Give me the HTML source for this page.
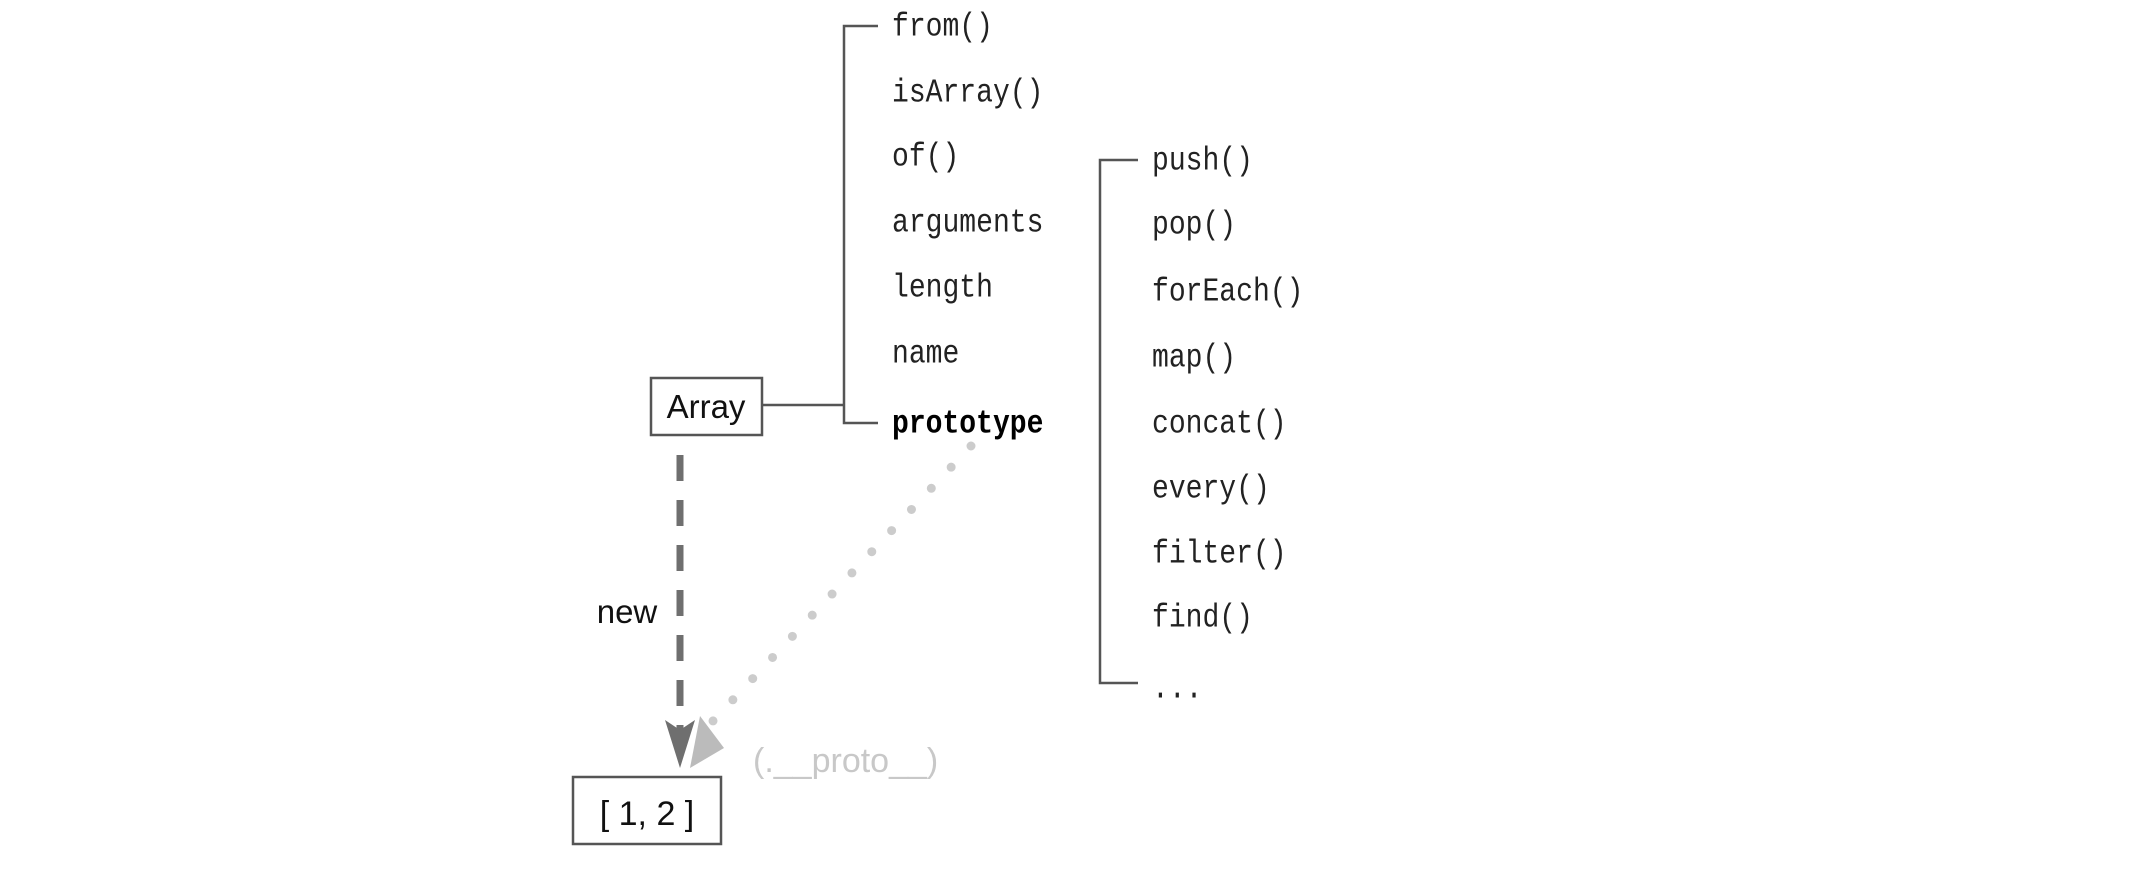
<!DOCTYPE html>
<html><head><meta charset="utf-8"><style>
html,body{margin:0;padding:0;background:#fff;}
svg{display:block}
.m{font-family:"Liberation Mono","DejaVu Sans Mono",monospace;font-size:33px;fill:#222;}
.s{font-family:"Liberation Sans",sans-serif;font-size:33px;fill:#111;}
</style></head><body>
<svg width="2145" height="880" viewBox="0 0 2145 880" xmlns="http://www.w3.org/2000/svg">
<g stroke="#555" stroke-width="2.5" fill="none">
<rect x="651" y="378" width="111" height="57"/>
<line x1="762" y1="405" x2="844" y2="405"/>
<polyline points="878,26 844,26 844,423 878,423"/>
<polyline points="1138,160 1100,160 1100,683 1138,683"/>
<rect x="573" y="777" width="148" height="67"/>
</g>
<g class="m" dominant-baseline="central" transform="translate(892,4) scale(0.85,1)">
<text x="0" y="24">from()</text>
<text x="0" y="90">isArray()</text>
<text x="0" y="154">of()</text>
<text x="0" y="220">arguments</text>
<text x="0" y="285">length</text>
<text x="0" y="351">name</text>
<text x="0" y="421" font-weight="bold" fill="#000">prototype</text>
</g>
<g class="m" dominant-baseline="central" transform="translate(1152,4) scale(0.85,1)">
<text x="0" y="158">push()</text>
<text x="0" y="222">pop()</text>
<text x="0" y="289">forEach()</text>
<text x="0" y="355">map()</text>
<text x="0" y="421">concat()</text>
<text x="0" y="486">every()</text>
<text x="0" y="551">filter()</text>
<text x="0" y="615">find()</text>
<text x="0" y="686">...</text>
</g>
<text class="s" x="706" y="418" text-anchor="middle">Array</text>
<text class="s" x="627" y="623" text-anchor="middle">new</text>
<text class="s" x="647" y="825" text-anchor="middle" style="font-size:34px">[ 1, 2 ]</text>
<text class="s" x="753" y="772" style="fill:#c8c8c8;font-size:34px">(.__proto__)</text>
<line x1="680" y1="455" x2="680" y2="735" stroke="#6f6f6f" stroke-width="7" stroke-dasharray="26,19"/>
<line x1="971" y1="446" x2="712" y2="722" stroke="#cccccc" stroke-width="9" stroke-linecap="round" stroke-dasharray="0,29"/>
<polygon points="700,716 724,748 690,768" fill="#bbbbbb"/>
<polygon points="665,720 680,730 695,720 680,768" fill="#6f6f6f"/>
</svg>
</body></html>
